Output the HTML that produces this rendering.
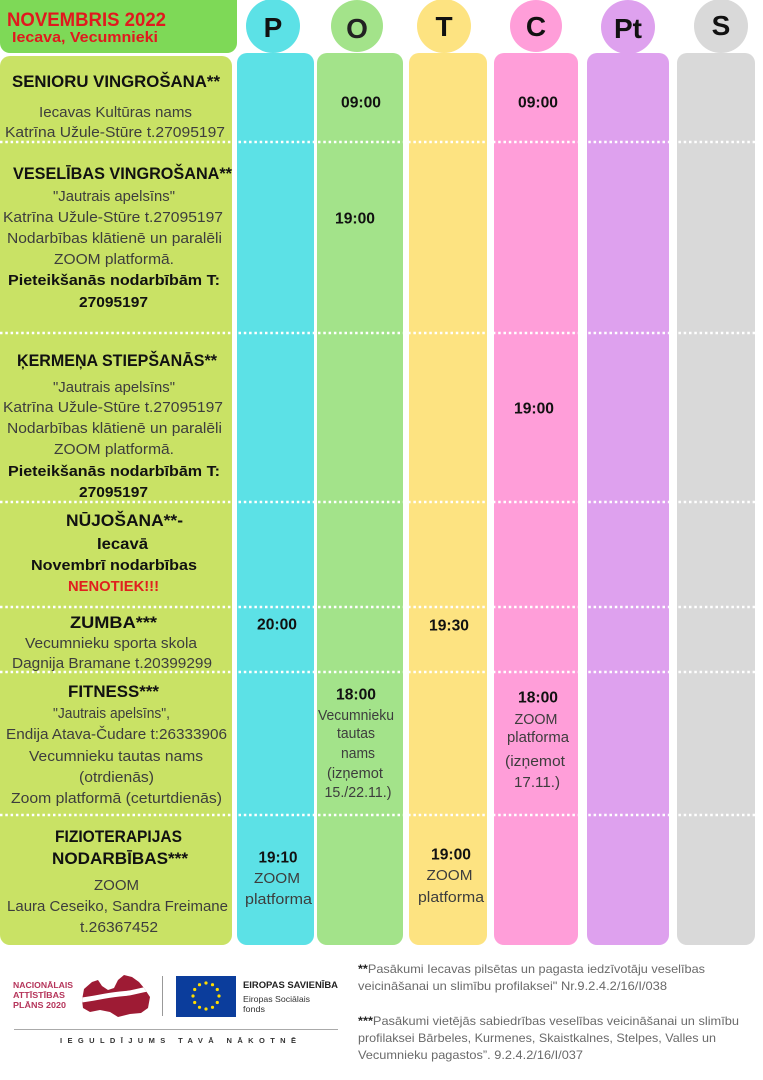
<!DOCTYPE html>
<html><head><meta charset="utf-8"><style>
html,body{margin:0;padding:0;background:#fff;}
svg{display:block;}
.t{font-family:"Liberation Sans",Arial,sans-serif;font-weight:bold;fill:#111;font-size:16.5px;}
.n{font-family:"Liberation Sans",Arial,sans-serif;fill:#3d3d3d;font-size:15px;}
.b{font-family:"Liberation Sans",Arial,sans-serif;font-weight:bold;fill:#111;font-size:15px;}
.tm{font-family:"Liberation Sans",Arial,sans-serif;font-weight:bold;fill:#111;font-size:15.5px;}
.L{font-family:"Liberation Sans",Arial,sans-serif;font-weight:bold;fill:#111;font-size:28px;}
.f{font-family:"Liberation Sans",Arial,sans-serif;fill:#6a6a6a;font-size:12px;}
</style></head><body>
<svg width="763" height="1080" viewBox="0 0 763 1080" xmlns="http://www.w3.org/2000/svg">
<rect x="0" y="0" width="763" height="1080" fill="#fff"/>
<!-- header -->
<rect x="0" y="-10" width="237" height="63" rx="10" fill="#7ed957"/>
<text x="7" y="26" font-family="Liberation Sans, Arial, sans-serif" font-weight="bold" font-size="19.5" fill="#e0191e" textLength="159" lengthAdjust="spacingAndGlyphs">NOVEMBRIS 2022</text>
<text x="12" y="42" font-family="Liberation Sans, Arial, sans-serif" font-weight="bold" font-size="15" fill="#e0191e" textLength="146" lengthAdjust="spacingAndGlyphs">Iecava, Vecumnieki</text>
<!-- left body -->
<rect x="0" y="56" width="232" height="889" rx="10" fill="#c9e265"/>
<!-- columns -->
<rect x="237" y="53" width="77" height="892" rx="10" fill="#5ce1e6"/>
<rect x="317" y="53" width="86" height="892" rx="10" fill="#a3e38a"/>
<rect x="409" y="53" width="78" height="892" rx="10" fill="#fde381"/>
<rect x="494" y="53" width="84" height="892" rx="10" fill="#ff9ed9"/>
<rect x="587" y="53" width="82" height="892" rx="10" fill="#dea1ee"/>
<rect x="677" y="53" width="78" height="892" rx="10" fill="#d9d9d9"/>
<!-- circles -->
<circle cx="273" cy="26" r="27" fill="#5ce1e6"/>
<circle cx="357" cy="26" r="26" fill="#a3e38a"/>
<circle cx="444" cy="26" r="27" fill="#fde381"/>
<circle cx="536" cy="26" r="26" fill="#ff9ed9"/>
<circle cx="628" cy="27" r="27" fill="#dea1ee"/>
<circle cx="721" cy="26" r="27" fill="#d9d9d9"/>
<text class="L" x="273" y="37" text-anchor="middle">P</text>
<text class="L" x="357" y="38" text-anchor="middle" style="fill:#222">O</text>
<text class="L" x="444" y="36" text-anchor="middle">T</text>
<text class="L" x="536" y="36" text-anchor="middle">C</text>
<text class="L" x="628" y="38" text-anchor="middle">Pt</text>
<text class="L" x="721" y="35" text-anchor="middle">S</text>
<!-- dotted separators -->
<g stroke="#fff" stroke-width="2.5" stroke-dasharray="2.5 2.8" fill="none">
<line x1="0" y1="142" x2="757" y2="142"/>
<line x1="0" y1="333" x2="757" y2="333"/>
<line x1="0" y1="502" x2="757" y2="502"/>
<line x1="0" y1="607" x2="757" y2="607"/>
<line x1="0" y1="672" x2="757" y2="672"/>
<line x1="0" y1="815" x2="757" y2="815"/>
</g>
<!-- Section 1 -->
<text class="t" x="116" y="87" text-anchor="middle" textLength="208" lengthAdjust="spacingAndGlyphs">SENIORU VINGROŠANA**</text>
<text class="n" x="115.5" y="117" text-anchor="middle" textLength="153" lengthAdjust="spacingAndGlyphs">Iecavas Kultūras nams</text>
<text class="n" x="115" y="137" text-anchor="middle" textLength="220" lengthAdjust="spacingAndGlyphs">Katrīna Užule-Stūre  t.27095197</text>
<!-- Section 2 -->
<text class="t" x="122.5" y="179" text-anchor="middle" textLength="219" lengthAdjust="spacingAndGlyphs">VESELĪBAS VINGROŠANA**</text>
<text class="n" x="114" y="201" text-anchor="middle" textLength="122" lengthAdjust="spacingAndGlyphs">"Jautrais apelsīns"</text>
<text class="n" x="113" y="222" text-anchor="middle" textLength="220" lengthAdjust="spacingAndGlyphs">Katrīna Užule-Stūre  t.27095197</text>
<text class="n" x="114.5" y="243" text-anchor="middle" textLength="215" lengthAdjust="spacingAndGlyphs">Nodarbības klātienē un paralēli</text>
<text class="n" x="114" y="264" text-anchor="middle" textLength="120" lengthAdjust="spacingAndGlyphs">ZOOM platformā.</text>
<text class="b" x="114" y="285" text-anchor="middle" textLength="212" lengthAdjust="spacingAndGlyphs">Pieteikšanās nodarbībām T:</text>
<text class="b" x="113.5" y="307" text-anchor="middle" textLength="69" lengthAdjust="spacingAndGlyphs">27095197</text>
<!-- Section 3 -->
<text class="t" x="117" y="366" text-anchor="middle" textLength="200" lengthAdjust="spacingAndGlyphs">ĶERMEŅA STIEPŠANĀS**</text>
<text class="n" x="114" y="392" text-anchor="middle" textLength="122" lengthAdjust="spacingAndGlyphs">"Jautrais apelsīns"</text>
<text class="n" x="113" y="412" text-anchor="middle" textLength="220" lengthAdjust="spacingAndGlyphs">Katrīna Užule-Stūre  t.27095197</text>
<text class="n" x="114.5" y="433" text-anchor="middle" textLength="215" lengthAdjust="spacingAndGlyphs">Nodarbības klātienē un paralēli</text>
<text class="n" x="114" y="454" text-anchor="middle" textLength="120" lengthAdjust="spacingAndGlyphs">ZOOM platformā.</text>
<text class="b" x="114" y="476" text-anchor="middle" textLength="212" lengthAdjust="spacingAndGlyphs">Pieteikšanās nodarbībām T:</text>
<text class="b" x="113.5" y="497" text-anchor="middle" textLength="69" lengthAdjust="spacingAndGlyphs">27095197</text>
<!-- Section 4 -->
<text class="t" x="124.5" y="526" text-anchor="middle" textLength="117" lengthAdjust="spacingAndGlyphs">NŪJOŠANA**-</text>
<text class="t" x="122.5" y="549" text-anchor="middle" textLength="51" lengthAdjust="spacingAndGlyphs" style="font-size:16px">Iecavā</text>
<text class="b" x="114" y="570" text-anchor="middle" textLength="166" lengthAdjust="spacingAndGlyphs">Novembrī nodarbības</text>
<text class="b" x="113.5" y="591" text-anchor="middle" textLength="91" lengthAdjust="spacingAndGlyphs" style="fill:#e0201e">NENOTIEK!!!</text>
<!-- Section 5 -->
<text class="t" x="113.5" y="628" text-anchor="middle" textLength="87" lengthAdjust="spacingAndGlyphs">ZUMBA***</text>
<text class="n" x="111" y="648" text-anchor="middle" textLength="172" lengthAdjust="spacingAndGlyphs">Vecumnieku sporta skola</text>
<text class="n" x="112" y="668" text-anchor="middle" textLength="200" lengthAdjust="spacingAndGlyphs">Dagnija Bramane t.20399299</text>
<!-- Section 6 -->
<text class="t" x="113.5" y="697" text-anchor="middle" textLength="91" lengthAdjust="spacingAndGlyphs">FITNESS***</text>
<text class="n" x="111.5" y="718" text-anchor="middle" textLength="117" lengthAdjust="spacingAndGlyphs">"Jautrais apelsīns",</text>
<text class="n" x="116.5" y="739" text-anchor="middle" textLength="221" lengthAdjust="spacingAndGlyphs">Endija Atava-Čudare t:26333906</text>
<text class="n" x="116" y="761" text-anchor="middle" textLength="174" lengthAdjust="spacingAndGlyphs">Vecumnieku tautas nams</text>
<text class="n" x="116.5" y="782" text-anchor="middle" textLength="75" lengthAdjust="spacingAndGlyphs">(otrdienās)</text>
<text class="n" x="116.5" y="803" text-anchor="middle" textLength="211" lengthAdjust="spacingAndGlyphs">Zoom platformā (ceturtdienās)</text>
<!-- Section 7 -->
<text class="t" x="118.5" y="842" text-anchor="middle" textLength="127" lengthAdjust="spacingAndGlyphs">FIZIOTERAPIJAS</text>
<text class="t" x="120" y="864" text-anchor="middle" textLength="136" lengthAdjust="spacingAndGlyphs">NODARBĪBAS***</text>
<text class="n" x="116.5" y="890" text-anchor="middle" textLength="45" lengthAdjust="spacingAndGlyphs">ZOOM</text>
<text class="n" x="117.5" y="911" text-anchor="middle" textLength="221" lengthAdjust="spacingAndGlyphs">Laura Ceseiko, Sandra Freimane</text>
<text class="n" x="119" y="932" text-anchor="middle" textLength="78" lengthAdjust="spacingAndGlyphs">t.26367452</text>
<!-- times -->
<text class="tm" x="361" y="107.5" text-anchor="middle" textLength="40" lengthAdjust="spacingAndGlyphs">09:00</text>
<text class="tm" x="538" y="107.5" text-anchor="middle" textLength="40" lengthAdjust="spacingAndGlyphs">09:00</text>
<text class="tm" x="355" y="223.5" text-anchor="middle" textLength="40" lengthAdjust="spacingAndGlyphs">19:00</text>
<text class="tm" x="534" y="413.5" text-anchor="middle" textLength="40" lengthAdjust="spacingAndGlyphs">19:00</text>
<text class="tm" x="277" y="629.5" text-anchor="middle" textLength="40" lengthAdjust="spacingAndGlyphs">20:00</text>
<text class="tm" x="449" y="630.5" text-anchor="middle" textLength="40" lengthAdjust="spacingAndGlyphs">19:30</text>
<text class="tm" x="356" y="699.5" text-anchor="middle" textLength="40" lengthAdjust="spacingAndGlyphs">18:00</text>
<text class="tm" x="538" y="702.5" text-anchor="middle" textLength="40" lengthAdjust="spacingAndGlyphs">18:00</text>
<text class="tm" x="278" y="862.5" text-anchor="middle" textLength="39" lengthAdjust="spacingAndGlyphs">19:10</text>
<text class="tm" x="451" y="859.5" text-anchor="middle" textLength="40" lengthAdjust="spacingAndGlyphs">19:00</text>
<!-- column descriptive text -->
<text class="n" x="356" y="720" text-anchor="middle" textLength="76" lengthAdjust="spacingAndGlyphs">Vecumnieku</text>
<text class="n" x="356" y="738" text-anchor="middle" textLength="38" lengthAdjust="spacingAndGlyphs">tautas</text>
<text class="n" x="358" y="758" text-anchor="middle" textLength="34" lengthAdjust="spacingAndGlyphs">nams</text>
<text class="n" x="355" y="778" text-anchor="middle" textLength="56" lengthAdjust="spacingAndGlyphs">(izņemot</text>
<text class="n" x="358" y="797" text-anchor="middle" textLength="67" lengthAdjust="spacingAndGlyphs">15./22.11.)</text>
<text class="n" x="536" y="724" text-anchor="middle" textLength="43" lengthAdjust="spacingAndGlyphs">ZOOM</text>
<text class="n" x="538" y="742" text-anchor="middle" textLength="62" lengthAdjust="spacingAndGlyphs">platforma</text>
<text class="n" x="535" y="766" text-anchor="middle" textLength="60" lengthAdjust="spacingAndGlyphs">(izņemot</text>
<text class="n" x="537" y="787" text-anchor="middle" textLength="46" lengthAdjust="spacingAndGlyphs">17.11.)</text>
<text class="n" x="277" y="883" text-anchor="middle" textLength="46" lengthAdjust="spacingAndGlyphs">ZOOM</text>
<text class="n" x="278.5" y="904" text-anchor="middle" textLength="67" lengthAdjust="spacingAndGlyphs">platforma</text>
<text class="n" x="449.5" y="880" text-anchor="middle" textLength="46" lengthAdjust="spacingAndGlyphs">ZOOM</text>
<text class="n" x="451" y="902" text-anchor="middle" textLength="66" lengthAdjust="spacingAndGlyphs">platforma</text>
<!-- footer logos -->
<g font-family="Liberation Sans, Arial, sans-serif" font-weight="bold" font-size="8.5" fill="#b5345a">
<text x="13" y="988" textLength="60" lengthAdjust="spacingAndGlyphs">NACIONĀLAIS</text>
<text x="13" y="998" textLength="52" lengthAdjust="spacingAndGlyphs">ATTĪSTĪBAS</text>
<text x="13" y="1008" textLength="53" lengthAdjust="spacingAndGlyphs">PLĀNS 2020</text>
</g>
<defs><clipPath id="lv"><polygon points="82,1000 84,989 92,982 98,980 102,986 108,990 114,988 118,980 124,975 132,977 139,982 144,988 150,997 148,1008 141,1013 130,1014 118,1017 110,1012 100,1010 90,1012 83,1008"/></clipPath></defs>
<polygon points="82,1000 84,989 92,982 98,980 102,986 108,990 114,988 118,980 124,975 132,977 139,982 144,988 150,997 148,1008 141,1013 130,1014 118,1017 110,1012 100,1010 90,1012 83,1008" fill="#9e1b34"/>
<g clip-path="url(#lv)"><path d="M78,998 C95,996 110,992 125,991 C135,990 142,987 152,986 L152,991 C142,992 135,995 125,996 C110,997 95,1001 78,1003 Z" fill="#fff"/></g>
<line x1="162.5" y1="976" x2="162.5" y2="1016" stroke="#999" stroke-width="1"/>
<rect x="176" y="976" width="60" height="41" fill="#0b3d9c"/>
<g fill="#ffdd00">
<circle cx="206" cy="983" r="1.6"/><circle cx="212.5" cy="984.7" r="1.6"/><circle cx="217.3" cy="989.5" r="1.6"/><circle cx="219" cy="996" r="1.6"/><circle cx="217.3" cy="1002.5" r="1.6"/><circle cx="212.5" cy="1007.3" r="1.6"/><circle cx="206" cy="1009" r="1.6"/><circle cx="199.5" cy="1007.3" r="1.6"/><circle cx="194.7" cy="1002.5" r="1.6"/><circle cx="193" cy="996" r="1.6"/><circle cx="194.7" cy="989.5" r="1.6"/><circle cx="199.5" cy="984.7" r="1.6"/>
</g>
<text x="243" y="988" font-family="Liberation Sans, Arial, sans-serif" font-weight="bold" font-size="9" fill="#222" textLength="95" lengthAdjust="spacingAndGlyphs">EIROPAS SAVIENĪBA</text>
<text x="243" y="1002" font-family="Liberation Sans, Arial, sans-serif" font-size="8.5" fill="#333" textLength="67" lengthAdjust="spacingAndGlyphs">Eiropas Sociālais</text>
<text x="243" y="1012" font-family="Liberation Sans, Arial, sans-serif" font-size="8.5" fill="#333" textLength="22" lengthAdjust="spacingAndGlyphs">fonds</text>
<line x1="14" y1="1029.5" x2="338" y2="1029.5" stroke="#aaa" stroke-width="1"/>
<text x="60" y="1043" font-family="Liberation Sans, Arial, sans-serif" font-weight="bold" font-size="7.5" fill="#333" textLength="236" lengthAdjust="spacing">IEGULDĪJUMS TAVĀ NĀKOTNĒ</text>
<!-- footnotes -->
<text class="f" x="358" y="973" textLength="347" lengthAdjust="spacingAndGlyphs"><tspan style="fill:#222;font-weight:bold">**</tspan>Pasākumi Iecavas pilsētas un pagasta iedzīvotāju veselības</text>
<text class="f" x="358" y="990" textLength="309" lengthAdjust="spacingAndGlyphs">veicināšanai un slimību profilaksei" Nr.9.2.4.2/16/I/038</text>
<text class="f" x="358" y="1025" textLength="381" lengthAdjust="spacingAndGlyphs"><tspan style="fill:#222;font-weight:bold">***</tspan>Pasākumi vietējās sabiedrības veselības veicināšanai un slimību</text>
<text class="f" x="358" y="1042" textLength="358" lengthAdjust="spacingAndGlyphs">profilaksei Bārbeles, Kurmenes, Skaistkalnes, Stelpes, Valles un</text>
<text class="f" x="358" y="1059" textLength="225" lengthAdjust="spacingAndGlyphs">Vecumnieku pagastos”. 9.2.4.2/16/I/037</text>
</svg>
</body></html>
